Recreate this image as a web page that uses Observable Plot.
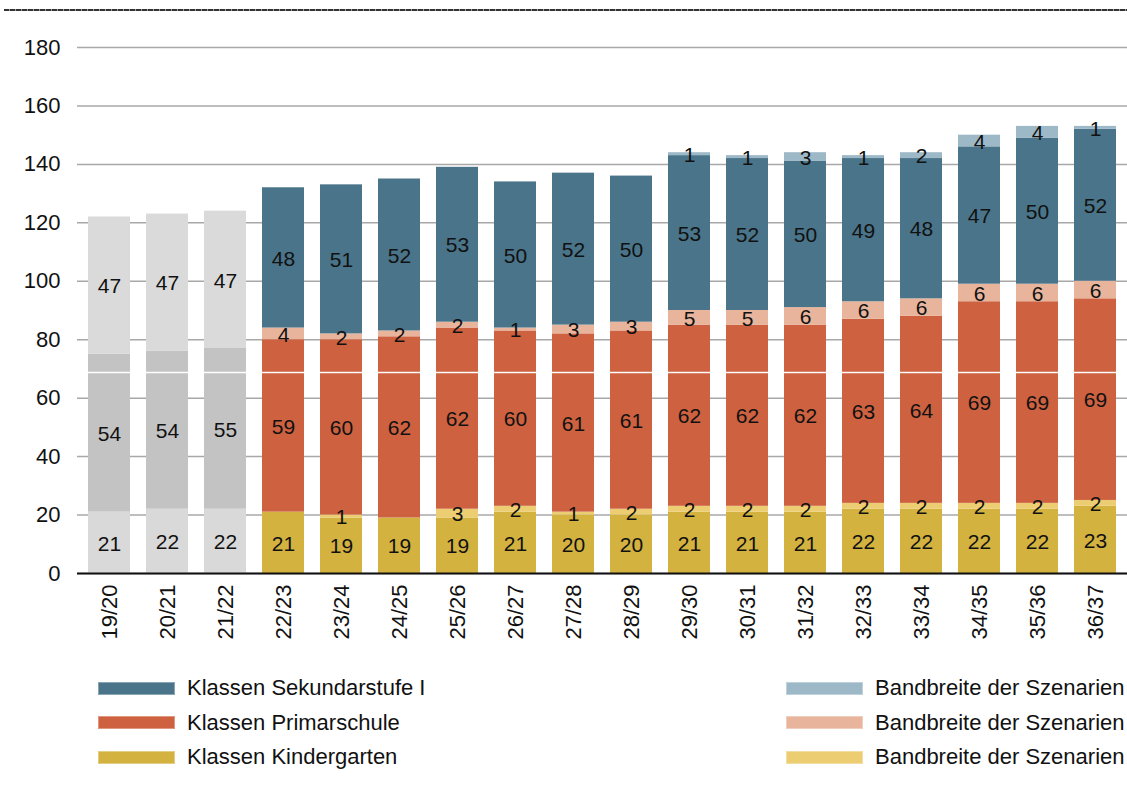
<!DOCTYPE html>
<html>
<head>
<meta charset="utf-8">
<script src="https://cdn.jsdelivr.net/npm/d3@7"></script>
<script src="https://cdn.jsdelivr.net/npm/@observablehq/plot@0.6"></script>
<style>
  html, body { margin: 0; padding: 0; background: #fff; }
  body { width: 1127px; height: 793px; position: relative; overflow: hidden;
         font-family: "Liberation Sans", Arial, sans-serif; color: #111; }
  #dash { position: absolute; left: 4px; right: 0; top: 9px; height: 2px;
          background: repeating-linear-gradient(to right, #333 0 5px, #999 5px 6px); }
  #chart svg { display: block; }
  #legend { position: absolute; top: 671px; left: 0; width: 1127px; }
  .row { position: absolute; display: flex; align-items: center; height: 34px; font-size: 22px; white-space: nowrap; }
  .sw { width: 77px; height: 13px; margin-right: 12px; box-shadow: inset 0 0 0 1px rgba(255,255,255,0.35); }
</style>
</head>
<body>
<div id="dash"></div>
<div id="chart"></div>
<div id="legend"></div>
<script>
// ---- data ----
const years = ["19/20","20/21","21/22","22/23","23/24","24/25","25/26","26/27","27/28","28/29","29/30","30/31","31/32","32/33","33/34","34/35","35/36","36/37"];
// historical (grey) bars: 19/20 – 21/22
const histKinder = [21, 22, 22];
const histPrimar = [54, 54, 55];
const histSek    = [47, 47, 47];
// forecast bars: 22/23 – 36/37
const kinder      = [21, 19, 19, 19, 21, 20, 20, 21, 21, 21, 22, 22, 22, 22, 23];
const kinderBand  = [0, 1, 0, 3, 2, 1, 2, 2, 2, 2, 2, 2, 2, 2, 2];
const primar      = [59, 60, 62, 62, 60, 61, 61, 62, 62, 62, 63, 64, 69, 69, 69];
const primarBand  = [4, 2, 2, 2, 1, 3, 3, 5, 5, 6, 6, 6, 6, 6, 6];
const sek         = [48, 51, 52, 53, 50, 52, 50, 53, 52, 50, 49, 48, 47, 50, 52];
const sekBand     = [0, 0, 0, 0, 0, 0, 0, 1, 1, 3, 1, 2, 4, 4, 1];
const yTicks = [0, 20, 40, 60, 80, 100, 120, 140, 160, 180];
const scanLine = [68.8]; // white scan artefact line across the picture

const colors = {
  histKinder: "#d9d9d9", histPrimar: "#c3c3c3", histSek: "#dadada",
  kinder: "#d3b240", kinderBand: "#eccd72",
  primar: "#cd6140", primarBand: "#e8b49c",
  sek: "#4a7489", sekBand: "#9db8c7"
};
const legendLeft = [
  ["Klassen Sekundarstufe I", "sek"],
  ["Klassen Primarschule", "primar"],
  ["Klassen Kindergarten", "kinder"]
];
const legendRight = [
  ["Bandbreite der Szenarien", "sekBand"],
  ["Bandbreite der Szenarien", "primarBand"],
  ["Bandbreite der Szenarien", "kinderBand"]
];

// ---- build table (bottom to top order per year) ----
const rows = [];
years.slice(0, 3).forEach((y, i) => {
  rows.push({year: y, series: "histKinder", value: histKinder[i]});
  rows.push({year: y, series: "histPrimar", value: histPrimar[i]});
  rows.push({year: y, series: "histSek", value: histSek[i]});
});
years.slice(3).forEach((y, i) => {
  rows.push({year: y, series: "kinder", value: kinder[i]});
  rows.push({year: y, series: "kinderBand", value: kinderBand[i]});
  rows.push({year: y, series: "primar", value: primar[i]});
  rows.push({year: y, series: "primarBand", value: primarBand[i]});
  rows.push({year: y, series: "sek", value: sek[i]});
  rows.push({year: y, series: "sekBand", value: sekBand[i]});
});

const chart = Plot.plot({
  width: 1127,
  height: 660,
  marginLeft: 77,
  marginRight: 0,
  marginTop: 47,
  marginBottom: 87,
  style: {fontFamily: '"Liberation Sans", Arial, sans-serif', color: "#111", background: "transparent"},
  x: {domain: years, paddingInner: 0.28, paddingOuter: 0.14, label: null},
  y: {domain: [0, 180], label: null},
  marks: [
    Plot.ruleY(yTicks, {stroke: "#a8a8a8", strokeWidth: 1.5}),
    Plot.barY(rows, Plot.stackY({x: "year", y: "value", z: "series", fill: d => colors[d.series], order: null})),
    Plot.ruleY(scanLine, {stroke: "#ffffff", strokeWidth: 1.5}),
    Plot.text(rows, Plot.stackY({x: "year", y: "value", z: "series", order: null,
      text: d => d.value > 0 ? String(d.value) : null,
      fontSize: 21, fill: "#111", dy: 1})),
    Plot.ruleY([0], {stroke: "#111", strokeWidth: 2}),
    Plot.axisY({ticks: yTicks, tickSize: 0, tickPadding: 17, fontSize: 22, label: null}),
    Plot.axisX({tickRotate: -90, tickSize: 0, tickPadding: 11, fontSize: 22, label: null})
  ]
});
document.getElementById("chart").appendChild(chart);

// ---- legend ----
const legend = document.getElementById("legend");
function addRow(label, key, left, i) {
  const r = document.createElement("div");
  r.className = "row";
  r.style.left = left + "px";
  r.style.top = (i * 34.5) + "px";
  const sw = document.createElement("div");
  sw.className = "sw";
  sw.style.background = colors[key];
  const t = document.createElement("span");
  t.textContent = label;
  r.appendChild(sw); r.appendChild(t);
  legend.appendChild(r);
}
legendLeft.forEach(([l, k], i) => addRow(l, k, 98, i));
legendRight.forEach(([l, k], i) => addRow(l, k, 786, i));
</script>
</body>
</html>
